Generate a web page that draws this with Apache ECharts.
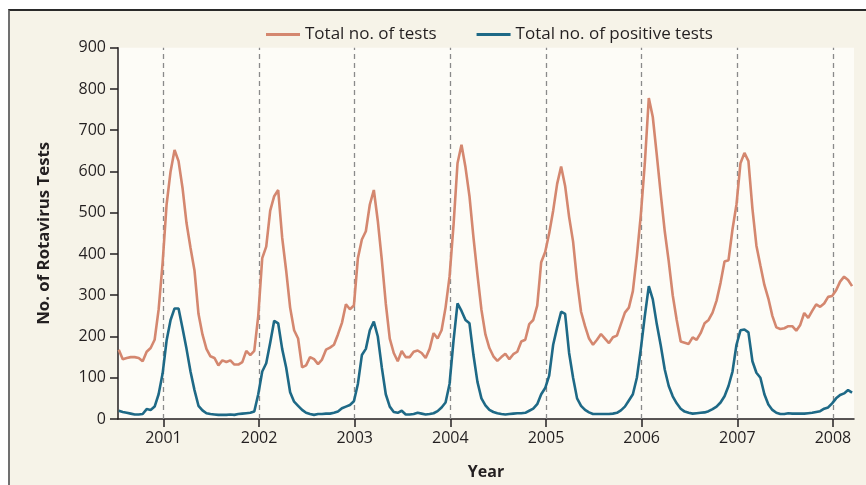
<!DOCTYPE html>
<html>
<head>
<meta charset="utf-8">
<script src="https://cdn.jsdelivr.net/npm/echarts@6/dist/echarts.min.js"></script>
<style>
html,body{margin:0;padding:0;background:#ffffff;overflow:hidden;}
#frame{position:absolute;left:8px;top:9px;width:900px;height:500px;background:#f6f3e8;border-top:2px solid #2a2a2a;border-left:2px solid #707070;}
#chart{position:absolute;left:0;top:0;width:866px;height:485px;}
</style>
</head>
<body>
<div id="frame"></div>
<div id="chart"></div>
<script>
// Half-monthly readings, starting mid-July 2000
const startYear = 2000.533;
const stepYears = 1 / 24;
const yearTicks = [2001, 2002, 2003, 2004, 2005, 2006, 2007, 2008];
const yTicks = [0, 100, 200, 300, 400, 500, 600, 700, 800, 900];
const seriesNames = ['Total no. of tests', 'Total no. of positive tests'];

const totalTests = [
  168,145,148,150,150,148,140,163,172,192,265,378,520,600,652,625,560,475,415,360,
  255,205,170,152,148,130,142,138,142,132,132,138,165,155,165,250,390,418,505,540,
  555,440,360,270,215,195,125,130,150,145,133,144,168,173,180,205,233,278,266,275,
  390,435,455,520,555,480,386,280,195,160,140,165,150,150,163,166,160,148,170,208,
  195,215,270,345,470,620,665,610,540,440,350,265,205,172,152,141,150,158,145,157,
  163,188,192,230,240,275,380,405,450,505,570,612,565,490,430,335,260,225,195,180,
  192,206,195,184,198,202,230,258,270,310,395,495,620,778,732,640,545,455,382,300,
  240,188,185,182,198,192,208,232,240,258,287,330,382,385,460,520,620,645,625,510,
  420,372,325,292,250,222,218,220,225,225,214,228,257,245,262,278,272,280,296,298,
  312,333,345,337,322
];

const positiveTests = [
  20,17,15,13,11,11,12,24,22,30,60,110,190,240,268,268,220,170,115,70,
  32,21,14,12,11,10,10,10,11,10,12,13,14,15,18,60,115,135,185,238,
  232,170,125,65,42,32,22,15,12,10,12,12,13,13,15,18,26,30,34,43,
  85,155,170,215,236,200,125,60,30,17,15,20,11,11,12,15,13,11,12,14,
  19,28,40,85,190,280,262,240,232,155,90,50,33,22,17,14,12,11,12,13,
  14,14,15,20,25,36,60,75,105,180,222,260,255,160,100,50,32,22,16,12,
  12,12,12,12,13,15,21,30,45,60,100,170,250,322,290,230,178,120,80,55,
  38,25,18,15,13,14,15,16,19,24,30,40,55,80,115,180,215,217,210,140,
  112,100,60,35,22,15,12,12,14,13,13,13,13,14,15,17,19,25,28,38,
  50,58,62,70,64
];

const toPairs = arr => arr.map((v, i) => [startYear + i * stepYears, v]);

const font = '"Open Sans", "DejaVu Sans", sans-serif';
const ink = '#231f20';

const chart = echarts.init(document.getElementById('chart'), null, {renderer: 'canvas'});
chart.setOption({
  backgroundColor: 'transparent',
  animation: false,
  textStyle: {fontFamily: font, color: ink},
  legend: {
    left: 261,
    top: 21,
    itemWidth: 34,
    itemHeight: 3,
    itemGap: 40,
    icon: 'rect',
    textStyle: {fontFamily: font, fontSize: 17, color: ink},
    data: seriesNames
  },
  grid: {
    left: 118,
    right: 12,
    top: 47.7,
    bottom: 65.6,
    show: true,
    backgroundColor: '#fdfcf7',
    borderWidth: 0
  },
  xAxis: {
    type: 'value',
    min: 2000.525,
    max: 2008.22,
    name: 'Year',
    nameLocation: 'middle',
    nameGap: 45,
    nameTextStyle: {fontFamily: font, fontSize: 16, fontWeight: 'bold', color: ink},
    axisLine: {show: true, onZero: false, lineStyle: {color: ink, width: 1.5}},
    axisTick: {show: true, customValues: yearTicks, length: 8, lineStyle: {color: ink, width: 1.5}},
    axisLabel: {
      customValues: yearTicks,
      margin: 11,
      fontFamily: font,
      fontSize: 16,
      color: ink,
      formatter: v => String(Math.round(v))
    },
    splitLine: {show: false}
  },
  yAxis: {
    type: 'value',
    min: 0,
    max: 900,
    interval: 100,
    name: 'No. of Rotavirus Tests',
    nameLocation: 'middle',
    nameGap: 65,
    nameTextStyle: {fontFamily: font, fontSize: 16.8, fontWeight: 'bold', color: ink},
    axisLine: {show: true, lineStyle: {color: ink, width: 1.5}},
    axisTick: {show: true, length: 8, lineStyle: {color: ink, width: 1.5}},
    axisLabel: {
      margin: 12,
      fontFamily: font,
      fontSize: 16,
      color: ink,
      customValues: yTicks
    },
    splitLine: {show: false}
  },
  series: [
    {
      name: seriesNames[0],
      type: 'line',
      data: toPairs(totalTests),
      showSymbol: false,
      symbol: 'none',
      smooth: false,
      color: '#d4876f',
      lineStyle: {color: '#d4876f', width: 2.6},
      z: 3,
      markLine: {
        silent: true,
        symbol: ['none', 'none'],
        label: {show: false},
        lineStyle: {color: '#8a8a8a', type: [5, 4], width: 1.3},
        data: yearTicks.map(y => ({xAxis: y})),
        z: 1
      }
    },
    {
      name: seriesNames[1],
      type: 'line',
      data: toPairs(positiveTests),
      showSymbol: false,
      symbol: 'none',
      smooth: false,
      color: '#1e6986',
      lineStyle: {color: '#1e6986', width: 2.6},
      z: 4
    }
  ]
});
</script>
</body>
</html>
